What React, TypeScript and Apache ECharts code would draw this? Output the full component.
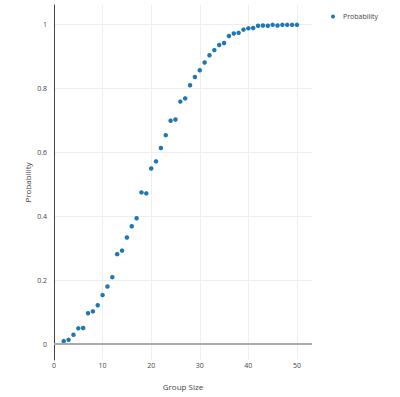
import React, { useEffect, useRef } from "react";
import * as echarts from "echarts";

const groupSizes = [2,3,4,5,6,7,8,9,10,11,12,13,14,15,16,17,18,19,20,21,22,23,24,25,26,27,28,29,30,31,32,33,34,35,36,37,38,39,40,41,42,43,44,45,46,47,48,49,50];
const probabilities = [0.009,0.013,0.029,0.049,0.05,0.096,0.102,0.121,0.153,0.18,0.209,0.281,0.292,0.333,0.368,0.393,0.474,0.471,0.549,0.571,0.613,0.653,0.698,0.702,0.758,0.768,0.809,0.835,0.856,0.88,0.903,0.919,0.935,0.941,0.963,0.971,0.973,0.983,0.987,0.988,0.995,0.996,0.995,0.998,0.996,0.998,0.998,0.998,0.998];
const xTicks = [0, 10, 20, 30, 40, 50];
const yTicks = [0, 0.2, 0.4, 0.6, 0.8, 1];
const seriesName = "Probability";
const xTitle = "Group Size";
const yTitle = "Probability";

export default function App() {
  const ref = useRef<HTMLDivElement>(null);
  useEffect(() => {
    if (!ref.current) return;
    const chart = echarts.init(ref.current, null, { renderer: "svg" });
    const font = "Open Sans";
    chart.setOption({
      animation: false,
      textStyle: { fontFamily: font },
      legend: {
        left: 326,
        top: 8,
        icon: "circle",
        itemWidth: 4,
        itemHeight: 4,
        itemGap: 5,
        textStyle: { fontSize: 7, color: "#444", fontFamily: font, padding: [0, 0, 0, 3] },
        data: [seriesName],
      },
      grid: { left: 54, right: 88, top: 5, bottom: 37, containLabel: false },
      xAxis: {
        type: "value",
        min: 0,
        max: 53.1,
        name: xTitle,
        nameLocation: "middle",
        nameGap: 22,
        nameMoveOverlap: false,
        nameTextStyle: { fontSize: 8, color: "#444", fontFamily: font },
        axisLine: { show: false },
        axisTick: { show: false, customValues: xTicks },
        axisLabel: { customValues: xTicks, fontSize: 7, color: "#444", margin: 2, fontFamily: font },
        splitLine: { show: true, lineStyle: { color: "#eee", width: 1 } },
      },
      yAxis: {
        type: "value",
        min: -0.05,
        max: 1.06,
        name: yTitle,
        nameLocation: "middle",
        nameGap: 23,
        nameMoveOverlap: false,
        nameTextStyle: { fontSize: 8, color: "#444", fontFamily: font },
        axisLine: { show: true, onZero: false, lineStyle: { color: "#444", width: 1 } },
        axisTick: { show: false, customValues: yTicks },
        axisLabel: { customValues: yTicks, fontSize: 7, color: "#444", margin: 7, fontFamily: font },
        splitLine: { show: true, lineStyle: { color: "#eee", width: 1 } },
      },
      series: [
        {
          name: seriesName,
          type: "scatter",
          symbol: "circle",
          symbolSize: 4.5,
          itemStyle: { color: "#1f77b4", opacity: 1 },
          emphasis: { disabled: true },
          data: groupSizes.map((g, i) => [g, probabilities[i]]),
          markLine: {
            silent: true,
            symbol: ["none", "none"],
            label: { show: false },
            lineStyle: { color: "#aaa", width: 2, type: "solid" },
            data: [{ yAxis: 0 }],
          },
        },
      ],
    });
    return () => chart.dispose();
  }, []);
  return <div ref={ref} style={{ width: 400, height: 397, position: "absolute", left: 0, top: 0 }} />;
}
